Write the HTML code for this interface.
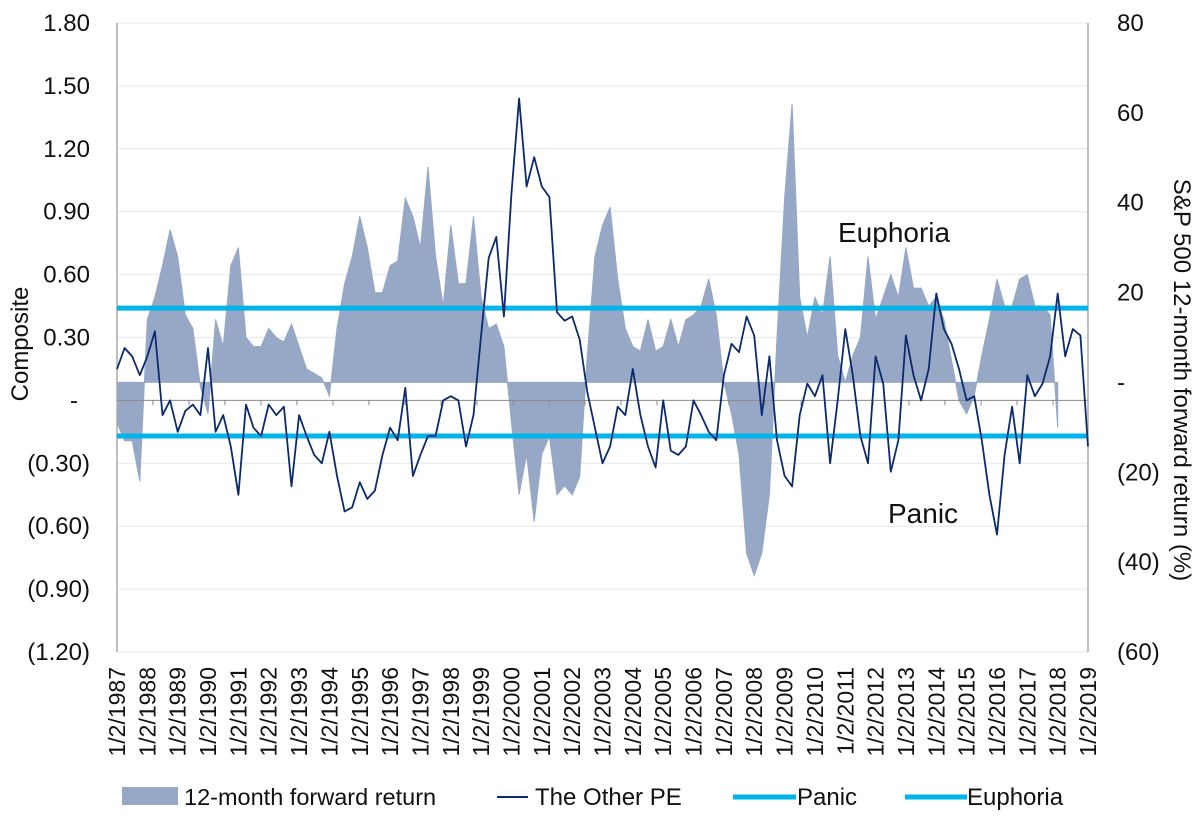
<!DOCTYPE html>
<html><head><meta charset="utf-8"><style>
html,body{margin:0;padding:0;background:#fff;}
svg{display:block;font-family:"Liberation Sans",Arial,sans-serif;}
</style></head><body>
<svg id="chart" width="1200" height="817" viewBox="0 0 1200 817" xmlns="http://www.w3.org/2000/svg"></svg>
<script>
const startYear = 1987;
const yearLabels = ["1/2/1987","1/2/1988","1/2/1989","1/2/1990","1/2/1991","1/2/1992","1/2/1993","1/2/1994","1/2/1995","1/2/1996","1/2/1997","1/2/1998","1/2/1999","1/2/2000","1/2/2001","1/2/2002","1/2/2003","1/2/2004","1/2/2005","1/2/2006","1/2/2007","1/2/2008","1/2/2009","1/2/2010","1/2/2011","1/2/2012","1/2/2013","1/2/2014","1/2/2015","1/2/2016","1/2/2017","1/2/2018","1/2/2019"];
const leftTicks = [1.8,1.5,1.2,0.9,0.6,0.3,0,-0.3,-0.6,-0.9,-1.2];
const leftTickLabels = ["1.80","1.50","1.20","0.90","0.60","0.30","-","(0.30)","(0.60)","(0.90)","(1.20)"];
const rightTicks = [80,60,40,20,0,-20,-40,-60];
const rightTickLabels = ["80","60","40","20","-","(20)","(40)","(60)"];
const panicLevel = -0.17;
const euphoriaLevel = 0.44;
// quarterly 12-month forward return (%), from 1987.0
const fwdReturn = [-9,-13,-13,-22,14,19,26,34,28,15,12,-1,-7,14,8,26,30,10,8,8,12,10,9,13,8,3,2,1,-3,12,22,28,37,30,20,20,26,27,41,37,30,48,28,17,35,22,22,37,19,12,13,8,-9,-25,-16,-31,-16,-12,-25,-23,-25,-21,6,28,35,
39,23,12,8,7,14,7,8,14,8,14,15,17,23,15,0,-7,-16,-38,-43,-38,-25,10,41,62,19,10,19,15,28,6,0,6,10,28,14,19,24,19,30,21,21,17,19,14,5,-4,-7,-3,6,14,23,17,17,23,24,17,17,15,-10];
// quarterly composite (The Other PE), from 1987.0
const otherPE = [0.15,0.25,0.21,0.12,0.21,0.33,-0.07,0.00,-0.15,-0.05,-0.02,-0.07,0.25,-0.15,-0.07,-0.22,-0.45,-0.02,-0.13,-0.17,-0.02,-0.07,-0.03,-0.41,-0.07,-0.17,-0.26,-0.30,-0.15,-0.36,-0.53,-0.51,-0.39,-0.47,-0.43,-0.26,-0.13,-0.19,0.06,-0.36,-0.26,-0.17,-0.17,0.00,0.02,0.00,-0.22,-0.07,0.31,0.68,0.78,0.40,0.99,1.44,1.02,1.16,1.02,0.97,0.42,0.38,0.40,0.29,0.04,-0.13,-0.30,
-0.22,-0.03,-0.07,0.15,-0.07,-0.22,-0.32,0.00,-0.24,-0.26,-0.22,0.00,-0.07,-0.15,-0.19,0.12,0.27,0.23,0.40,0.31,-0.07,0.21,-0.19,-0.36,-0.41,-0.07,0.08,0.02,0.12,-0.30,0.00,0.34,0.12,-0.17,-0.30,0.21,0.08,-0.34,-0.19,0.31,0.12,0.00,0.15,0.51,0.34,0.27,0.15,0.00,0.02,-0.19,-0.45,-0.64,-0.26,-0.03,-0.30,0.12,0.02,0.08,0.21,0.51,0.21,0.34,0.31,-0.22];

const NS="http://www.w3.org/2000/svg";
const svg=document.getElementById('chart');
const X0=117,X1=1088,Y0=23,Y1=652;
const xOf=t=>X0+(t-startYear)/32*(X1-X0);
const yL=v=>Y1-(v+1.2)/3.0*(Y1-Y0);
const yR=v=>Y1-(v+60)/140*(Y1-Y0);
function mk(tag,attrs,parent){const e=document.createElementNS(NS,tag);for(const k in attrs)e.setAttribute(k,attrs[k]);(parent||svg).appendChild(e);return e;}

leftTicks.forEach((v,i)=>{
  if(v===0)return;
  const g=mk('line',{x1:X0,x2:X1,y1:yL(v),y2:yL(v),stroke:'#e4e8f0','stroke-width':1});
  
  
});
let d='M'+xOf(startYear)+','+yR(0);
fwdReturn.forEach((v,i)=>{d+=' L'+xOf(startYear+i/4).toFixed(1)+','+yR(v).toFixed(1);});
d+=' L'+xOf(startYear+(fwdReturn.length-1)/4).toFixed(1)+','+yR(0)+' Z';
const area=mk('path',{d:d,fill:'#97a8c6',stroke:'#97a8c6','stroke-width':1});



const ax=mk('line',{x1:X0,x2:X1,y1:yL(0),y2:yL(0),stroke:'#888','stroke-width':1});


for(let t=X0;t<=X1;t+=36){const tk=mk('line',{x1:t,x2:t,y1:yL(0),y2:yL(0)+5,stroke:'#888'});

}
const la=mk('line',{x1:X0,x2:X0,y1:Y0,y2:Y1,stroke:'#aaa','stroke-width':1.5});


const ra=mk('line',{x1:X1,x2:X1,y1:Y0,y2:Y1,stroke:'#aaa','stroke-width':1.5});



[[panicLevel,'panic-line'],[euphoriaLevel,'euphoria-line']].forEach(p=>{
  const l=mk('line',{x1:X0,x2:X1,y1:yL(p[0]),y2:yL(p[0]),stroke:'#00b4e8','stroke-width':5});
  
  
});
const pts=otherPE.map((v,i)=>xOf(startYear+i/4).toFixed(1)+','+yL(v).toFixed(1)).join(' ');
const pl=mk('polyline',{points:pts,fill:'none',stroke:'#0b2a6e','stroke-width':1.8,'stroke-linejoin':'round'});



leftTicks.forEach((v,i)=>{
  const dash=leftTickLabels[i]==='-';
  const t=mk('text',{x:dash?78:90,y:yL(v)+8,'text-anchor':'end','font-size':24,fill:'#111'});
  t.textContent=leftTickLabels[i];
  
  
});
rightTicks.forEach((v,i)=>{
  const t=mk('text',{x:1117,y:yR(v)+8,'font-size':24,fill:'#111'});
  t.textContent=rightTickLabels[i];
  
  
});
yearLabels.forEach((s,i)=>{
  const x=xOf(startYear+i);
  const t=mk('text',{x:0,y:0,'text-anchor':'end','font-size':23,fill:'#111',transform:'translate('+(x+8)+',667) rotate(-90)'});
  t.textContent=s;
  
  
});
let t=mk('text',{x:0,y:0,'text-anchor':'middle','font-size':24,fill:'#111',transform:'translate(28,344) rotate(-90)'});
t.textContent='Composite';


t=mk('text',{x:0,y:0,'text-anchor':'middle','font-size':24,fill:'#111',transform:'translate(1174,380) rotate(90)'});
t.textContent='S&P 500 12-month forward return (%)';


t=mk('text',{x:838,y:242,'font-size':28,fill:'#111'});
t.textContent='Euphoria';


t=mk('text',{x:888,y:523,'font-size':28,fill:'#111'});
t.textContent='Panic';



let s=mk('rect',{x:122,y:787,width:56,height:18,fill:'#97a8c6'});


t=mk('text',{x:184,y:805,'font-size':23.5,fill:'#111'});t.textContent='12-month forward return';


s=mk('line',{x1:497,x2:528,y1:797,y2:797,stroke:'#0b2a6e','stroke-width':2});


t=mk('text',{x:535,y:805,'font-size':24,fill:'#111'});t.textContent='The Other PE';


s=mk('line',{x1:733,x2:796,y1:797,y2:797,stroke:'#00b4e8','stroke-width':5});


t=mk('text',{x:797,y:805,'font-size':24,fill:'#111'});t.textContent='Panic';


s=mk('line',{x1:905,x2:967,y1:797,y2:797,stroke:'#00b4e8','stroke-width':5});


t=mk('text',{x:967,y:805,'font-size':24,fill:'#111'});t.textContent='Euphoria';


</script>
</body></html>
